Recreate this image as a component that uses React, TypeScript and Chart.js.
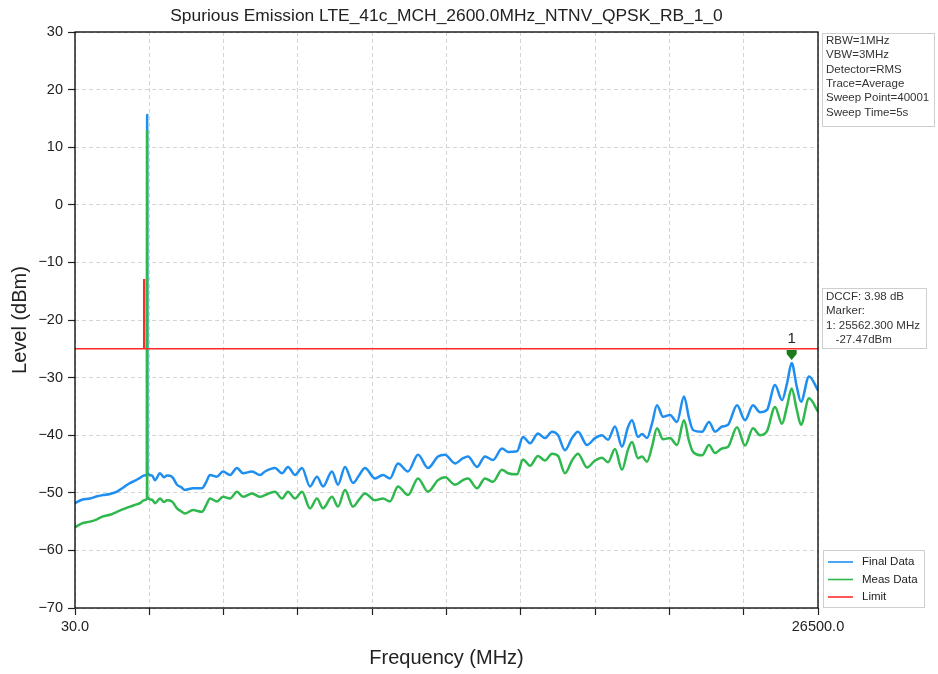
import { useEffect, useRef } from 'react';
import { Chart, registerables } from 'chart.js';

Chart.register(...registerables);

const TITLE = 'Spurious Emission LTE_41c_MCH_2600.0MHz_NTNV_QPSK_RB_1_0';

const FREQ_MHZ = [
  30, 279, 564, 814, 1028, 1277, 1526, 1776, 1990, 2168, 2346, 2488,
  2595, 2600, 2605,
  2773, 2880, 3058, 3201, 3308, 3486, 3664, 3806, 3949, 4234, 4555, 4698,
  4840, 5089, 5303, 5552, 5801, 6015, 6336, 6621, 6799, 7155, 7405, 7618,
  7868, 8117, 8402, 8651, 8865, 9186, 9400, 9649, 9934, 10148, 10362, 10718,
  11003, 11252, 11537, 11893, 12250, 12606, 12962, 13212, 13568, 13853, 14031, 14352,
  14637, 14922, 15242, 15456, 15777, 15990, 16240, 16525, 16774, 17024, 17238, 17487,
  17736, 17950, 18270, 18556, 18805, 19019, 19268, 19517, 19731, 19873, 20087, 20230,
  20408, 20586, 20764, 20978, 21227, 21477, 21726, 21904, 22047, 22368, 22617, 22831,
  23080, 23294, 23615, 23900, 24184, 24434, 24683, 24968, 25218, 25396, 25562, 25740,
  25894, 26180, 26500,
];

const FINAL_DBM = [
  -51.8, -51.2, -51.0, -50.6, -50.4, -50.2, -49.8, -49.0, -48.3, -47.9, -47.4, -47.0,
  -46.8, 15.6, -46.5,
  -47.0, -47.8, -46.6, -47.3, -47.0, -47.2, -48.6, -49.0, -49.5, -49.2, -49.2, -48.2,
  -46.9, -47.2, -46.3, -46.9, -45.7, -46.6, -46.3, -46.9, -46.3, -45.7, -46.6, -45.5,
  -46.9, -45.7, -48.9, -47.2, -48.9, -46.3, -48.6, -45.5, -48.3, -47.0, -45.7, -47.5,
  -46.9, -47.5, -44.9, -46.3, -43.4, -45.7, -43.7, -43.4, -44.9, -44.0, -43.7, -45.5,
  -43.7, -44.3, -42.3, -42.9, -42.8, -40.3, -41.4, -39.7, -40.5, -39.4, -40.0, -42.6,
  -40.5, -39.4, -41.7, -40.5, -40.0, -40.8, -38.5, -42.0, -38.6, -37.4, -40.3, -39.8,
  -40.5, -38.0, -34.8, -36.8, -36.5, -37.7, -33.3, -37.0, -39.1, -39.4, -37.7, -39.4,
  -38.5, -38.2, -34.8, -37.4, -34.8, -36.0, -35.6, -31.3, -33.9, -31.0, -27.47, -31.5,
  -34.2, -29.8, -32.2,
];

const MEAS_DBM = [
  -56.0, -55.3, -55.0, -54.6, -54.1, -53.8, -53.3, -52.8, -52.4, -52.1, -51.8, -51.3,
  -51.0, 13.0, -50.7,
  -51.2, -51.8, -51.0, -51.6, -51.3, -51.5, -52.7, -53.2, -53.6, -53.0, -53.3, -52.2,
  -51.0, -51.5, -50.7, -51.0, -49.8, -50.7, -50.1, -50.7, -50.4, -49.8, -51.0, -49.8,
  -51.0, -49.8, -52.7, -51.0, -52.7, -50.7, -52.4, -49.5, -52.4, -51.2, -50.1, -51.3,
  -51.0, -51.5, -48.9, -50.4, -47.5, -49.8, -47.8, -47.3, -48.6, -47.8, -47.5, -49.2,
  -47.5, -48.1, -46.0, -46.6, -46.8, -44.2, -45.3, -43.6, -44.4, -43.2, -43.6, -46.6,
  -44.4, -43.2, -45.6, -44.4, -43.9, -44.7, -42.4, -46.0, -42.5, -41.2, -44.0, -43.7,
  -44.6, -42.0, -38.8, -40.7, -40.5, -41.7, -37.4, -41.0, -42.9, -43.5, -41.7, -43.1,
  -42.3, -42.0, -38.6, -41.8, -38.8, -40.0, -39.3, -35.1, -38.0, -35.0, -31.9, -35.5,
  -38.2, -33.6, -35.9,
];

const LIMIT_FREQ_MHZ = [30, 2480, 2480, 2505, 2505, 26500];
const LIMIT_DBM = [-25, -25, -13, -13, -25, -25];

const X_TICKS_MHZ = [30, 2677, 5324, 7971, 10618, 13265, 15912, 18559, 21206, 23853, 26500];
const X_TICK_LABELS = ['30.0', '', '', '', '', '', '', '', '', '', '26500.0'];
const Y_MIN = -70;
const Y_MAX = 30;
const Y_STEP = 10;

const MARKER_FREQ_MHZ = 25562.3;
const MARKER_DBM = -27.47;
const MARKER_LABEL = '1';

const SETTINGS_LINES = [
  'RBW=1MHz',
  'VBW=3MHz',
  'Detector=RMS',
  'Trace=Average',
  'Sweep Point=40001',
  'Sweep Time=5s',
];
const MARKER_LINES = ['DCCF: 3.98 dB', 'Marker:', '1: 25562.300 MHz', '   -27.47dBm'];

const SERIES_NAMES = ['Final Data', 'Meas Data', 'Limit'];
const SERIES_COLORS = ['#1e8ff0', '#2fb84e', '#ff2b2b'];

const FONT = "'Liberation Sans', Arial, Helvetica, sans-serif";

const overlayPlugin = {
  id: 'overlay',
  afterDatasetsDraw(chart: any) {
    const { ctx, chartArea, scales } = chart;
    ctx.save();
    ctx.strokeStyle = '#000';
    ctx.lineWidth = 1.3;
    ctx.strokeRect(chartArea.left, chartArea.top, chartArea.right - chartArea.left, chartArea.bottom - chartArea.top);
    const mx = scales.x.getPixelForValue(MARKER_FREQ_MHZ);
    const my = scales.y.getPixelForValue(MARKER_DBM) - 9;
    ctx.fillStyle = '#1b7a1b';
    ctx.beginPath();
    ctx.moveTo(mx - 5, my - 4);
    ctx.lineTo(mx + 5, my - 4);
    ctx.lineTo(mx + 5, my);
    ctx.lineTo(mx, my + 6);
    ctx.lineTo(mx - 5, my);
    ctx.closePath();
    ctx.fill();
    ctx.fillStyle = '#222';
    ctx.font = `15px ${FONT}`;
    ctx.textAlign = 'center';
    ctx.textBaseline = 'middle';
    ctx.fillText(MARKER_LABEL, mx, my - 15);
    ctx.restore();
  },
  afterDraw(chart: any) {
    const { ctx, chartArea } = chart;
    ctx.save();
    ctx.fillStyle = '#222';
    ctx.font = `17.4px ${FONT}`;
    ctx.textAlign = 'center';
    ctx.textBaseline = 'middle';
    ctx.fillText(TITLE, (chartArea.left + chartArea.right) / 2, 16);

    const boxX = chartArea.right + 4;
    const drawBox = (x: number, y: number, w: number, h: number) => {
      ctx.fillStyle = '#fff';
      ctx.fillRect(x, y, w, h);
      ctx.strokeStyle = '#cfcfcf';
      ctx.lineWidth = 1;
      ctx.strokeRect(x + 0.5, y + 0.5, w, h);
    };
    ctx.font = `11.5px ${FONT}`;
    ctx.textAlign = 'left';
    ctx.textBaseline = 'middle';

    drawBox(boxX, chartArea.top + 1, 112, 93);
    ctx.fillStyle = '#333';
    SETTINGS_LINES.forEach((t, i) => ctx.fillText(t, boxX + 4, chartArea.top + 9 + i * 14.3));

    drawBox(boxX, 288, 104, 60);
    ctx.fillStyle = '#333';
    MARKER_LINES.forEach((t, i) => ctx.fillText(t, boxX + 4, 297 + i * 14.3));

    drawBox(boxX + 1, 550, 101, 57);
    SERIES_NAMES.forEach((name, i) => {
      const yy = 562 + i * 17.5;
      ctx.strokeStyle = SERIES_COLORS[i];
      ctx.lineWidth = 1.6;
      ctx.beginPath();
      ctx.moveTo(boxX + 6, yy);
      ctx.lineTo(boxX + 31, yy);
      ctx.stroke();
      ctx.fillStyle = '#222';
      ctx.fillText(name, boxX + 40, yy);
    });
    ctx.restore();
  },
};

export default function App() {
  const canvasRef = useRef<HTMLCanvasElement | null>(null);

  useEffect(() => {
    document.body.style.margin = '0';
    const canvas = canvasRef.current;
    if (!canvas) return;

    const toPoints = (xs: number[], ys: number[]) => xs.map((x, i) => ({ x, y: ys[i] }));

    const chart = new Chart(canvas, {
      type: 'line',
      data: {
        datasets: [
          {
            label: SERIES_NAMES[0],
            data: toPoints(FREQ_MHZ, FINAL_DBM),
            borderColor: SERIES_COLORS[0],
            borderWidth: 2.5,
            pointRadius: 0,
            cubicInterpolationMode: 'monotone',
            order: 3,
          },
          {
            label: SERIES_NAMES[1],
            data: toPoints(FREQ_MHZ, MEAS_DBM),
            borderColor: SERIES_COLORS[1],
            borderWidth: 2.5,
            pointRadius: 0,
            cubicInterpolationMode: 'monotone',
            order: 2,
          },
          {
            label: SERIES_NAMES[2],
            data: toPoints(LIMIT_FREQ_MHZ, LIMIT_DBM),
            borderColor: SERIES_COLORS[2],
            borderWidth: 1.6,
            pointRadius: 0,
            tension: 0,
            order: 1,
          },
        ],
      },
      options: {
        animation: false,
        responsive: false,
        devicePixelRatio: 1,
        layout: { padding: { top: 32, right: 120, bottom: 0, left: 0 } },
        plugins: {
          legend: { display: false },
          tooltip: { enabled: false },
          title: { display: false },
        },
        scales: {
          x: {
            type: 'linear',
            min: X_TICKS_MHZ[0],
            max: X_TICKS_MHZ[X_TICKS_MHZ.length - 1],
            afterBuildTicks: (scale: any) => {
              scale.ticks = X_TICKS_MHZ.map((v) => ({ value: v }));
            },
            afterFit: (scale: any) => {
              scale.height = 66;
            },
            ticks: {
              autoSkip: false,
              maxRotation: 0,
              padding: 3,
              color: '#222',
              font: { family: FONT, size: 14.5 },
              callback: (_v: any, i: number) => X_TICK_LABELS[i],
            },
            grid: {
              color: '#d4d4d4',
              lineWidth: 1,
              tickLength: 7,
              tickColor: '#222',
              tickWidth: 1.2,
              tickBorderDash: [],
            },
            border: { display: false, dash: [4, 3] },
            title: {
              display: true,
              text: 'Frequency (MHz)',
              color: '#222',
              font: { family: FONT, size: 20 },
              padding: { top: 0, bottom: 4 },
            },
          },
          y: {
            type: 'linear',
            min: Y_MIN,
            max: Y_MAX,
            afterFit: (scale: any) => {
              scale.width = 75;
            },
            ticks: {
              stepSize: Y_STEP,
              padding: 5,
              color: '#222',
              font: { family: FONT, size: 14.5 },
              callback: (v: any) => (Number(v) < 0 ? '\u2212' + Math.abs(Number(v)) : String(v)),
            },
            grid: {
              color: '#d4d4d4',
              lineWidth: 1,
              tickLength: 7,
              tickColor: '#222',
              tickWidth: 1.2,
              tickBorderDash: [],
            },
            border: { display: false, dash: [4, 3] },
            title: {
              display: true,
              text: 'Level (dBm)',
              color: '#222',
              font: { family: FONT, size: 20 },
              padding: { top: 8, bottom: 0 },
            },
          },
        },
      },
      plugins: [overlayPlugin],
    } as any);

    return () => chart.destroy();
  }, []);

  return (
    <div style={{ width: 938, height: 674 }}>
      <canvas ref={canvasRef} width={938} height={674} style={{ display: 'block' }} />
    </div>
  );
}
